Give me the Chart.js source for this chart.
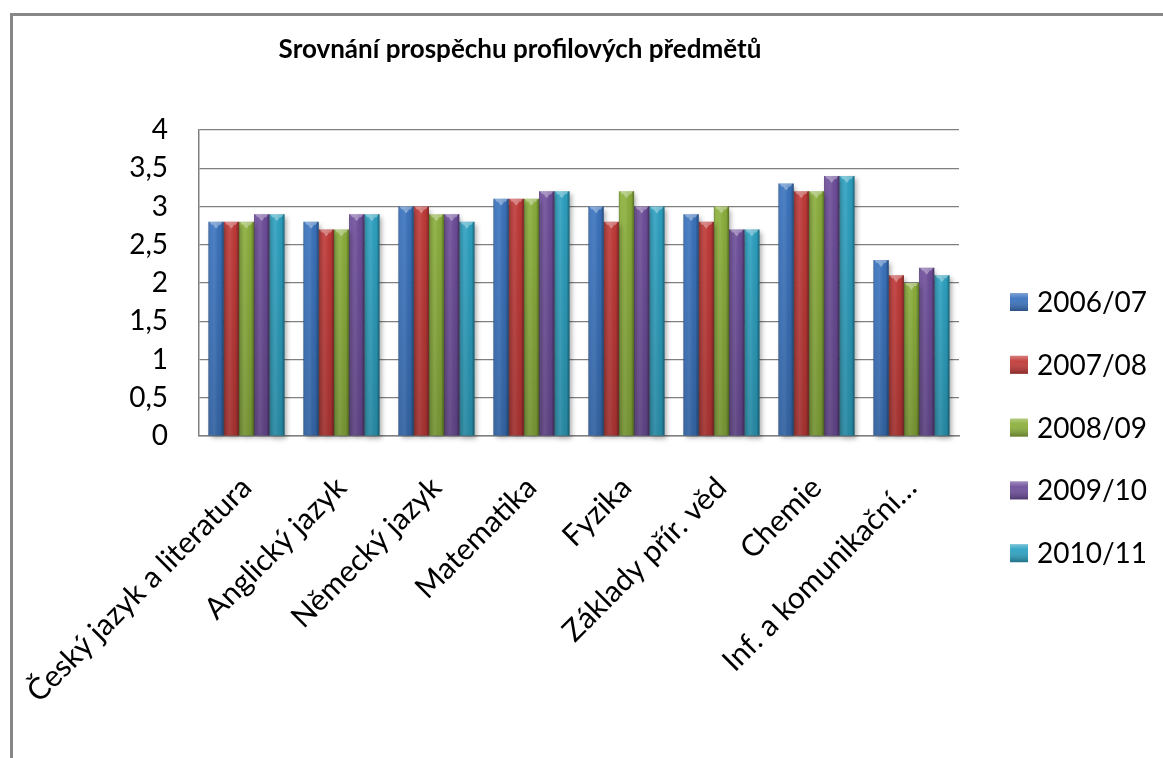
<!DOCTYPE html>
<html>
<head>
<meta charset="utf-8">
<script src="https://cdn.jsdelivr.net/npm/chart.js@4.4.1/dist/chart.umd.min.js"></script>
<style>
    html, body { margin: 0; padding: 0; background: #fff; overflow: hidden; }
    #wrap { position: absolute; left: 0; top: 0; width: 1163px; height: 758px; }
    #frame { position: absolute; left: 10px; top: 13px; width: 1200px; height: 800px;
             border-top: 3px solid #878787; border-left: 3px solid #878787; }
</style>
</head>
<body>
<div id="frame"></div>
<div id="wrap"><canvas id="myChart" width="1163" height="758"></canvas></div>
<script>
const chartTitle = 'Srovnání prospěchu profilových předmětů';
const subjects = ['Český jazyk a literatura', 'Anglický jazyk', 'Německý jazyk', 'Matematika',
    'Fyzika', 'Základy přír. věd', 'Chemie', 'Inf. a komunikační…'];
const years = ['2006/07', '2007/08', '2008/09', '2009/10', '2010/11'];
const v2006 = [2.8, 2.8, 3.0, 3.1, 3.0, 2.9, 3.3, 2.3];
const v2007 = [2.8, 2.7, 3.0, 3.1, 2.8, 2.8, 3.2, 2.1];
const v2008 = [2.8, 2.7, 2.9, 3.1, 3.2, 3.0, 3.2, 2.0];
const v2009 = [2.9, 2.9, 2.9, 3.2, 3.0, 2.7, 3.4, 2.2];
const v2010 = [2.9, 2.9, 2.8, 3.2, 3.0, 2.7, 3.4, 2.1];
const yTicks = [0, 0.5, 1, 1.5, 2, 2.5, 3, 3.5, 4];
const colors = ['#3A73BE', '#C23A38', '#8CB03C', '#6E4E9B', '#2DA2C2'];

const FONT = 'Lato, Carlito, Calibri, sans-serif';

// bevel look, shadow, title and legend
const excelLook = {
    id: 'excelLook',
    beforeDatasetsDraw(chart) {
        const ctx = chart.ctx;
        ctx.save();
        ctx.shadowColor = 'rgba(0,0,0,0.35)';
        ctx.shadowBlur = 5;
        ctx.shadowOffsetX = 2;
        ctx.shadowOffsetY = 3;
    },
    afterDatasetsDraw(chart) {
        const ctx = chart.ctx;
        ctx.restore();
        chart.data.datasets.forEach((ds, di) => {
            chart.getDatasetMeta(di).data.forEach((bar) => {
                const left = bar.x - bar.width / 2;
                const w = bar.width;
                const top = bar.y;
                const h = bar.base - bar.y;
                const g = ctx.createLinearGradient(left, 0, left + w, 0);
                g.addColorStop(0, 'rgba(0,0,0,0.30)');
                g.addColorStop(0.12, 'rgba(255,255,255,0.06)');
                g.addColorStop(0.4, 'rgba(255,255,255,0.10)');
                g.addColorStop(0.8, 'rgba(0,0,0,0.04)');
                g.addColorStop(1, 'rgba(0,0,0,0.38)');
                ctx.fillStyle = g;
                ctx.fillRect(left, top, w, h);
                // darker toward the base
                const gv = ctx.createLinearGradient(0, top, 0, top + h);
                gv.addColorStop(0, 'rgba(0,0,0,0)');
                gv.addColorStop(1, 'rgba(0,0,0,0.15)');
                ctx.fillStyle = gv;
                ctx.fillRect(left, top, w, h);
                // top cap
                ctx.fillStyle = 'rgba(255,255,255,0.35)';
                ctx.beginPath();
                ctx.moveTo(left + 1, top);
                ctx.lineTo(left + w - 1, top);
                ctx.lineTo(left + w - 3, top + 3);
                ctx.lineTo(left + 3, top + 3);
                ctx.closePath();
                ctx.fill();
                ctx.beginPath();
                ctx.moveTo(bar.x - 3, top + 3);
                ctx.lineTo(bar.x + 3, top + 3);
                ctx.lineTo(bar.x, top + 7);
                ctx.closePath();
                ctx.fill();
            });
        });
    },
    afterDraw(chart) {
        const ctx = chart.ctx;
        ctx.save();
        ctx.fillStyle = '#000';
        ctx.font = 'bold 26px ' + FONT;
        ctx.textAlign = 'center';
        ctx.textBaseline = 'alphabetic';
        ctx.fillText(chartTitle, 520, 58);

        ctx.font = '28px ' + FONT;
        ctx.textAlign = 'left';
        ctx.textBaseline = 'middle';
        chart.data.datasets.forEach((ds, i) => {
            const cy = 302 + i * 62.8;
            const bx = 1010, s = 18;
            ctx.fillStyle = ds.backgroundColor;
            ctx.fillRect(bx, cy - s / 2, s, s);
            const g = ctx.createLinearGradient(0, cy - s / 2, 0, cy + s / 2);
            g.addColorStop(0, 'rgba(255,255,255,0.35)');
            g.addColorStop(0.3, 'rgba(255,255,255,0.05)');
            g.addColorStop(1, 'rgba(0,0,0,0.3)');
            ctx.fillStyle = g;
            ctx.fillRect(bx, cy - s / 2, s, s);
            ctx.fillStyle = '#000';
            ctx.fillText(ds.label, 1037, cy + 1);
        });
        ctx.restore();
    },
};

const ctx = document.getElementById('myChart').getContext('2d');
const seriesValues = [v2006, v2007, v2008, v2009, v2010];
const myChart = new Chart(ctx, {
    type: 'bar',
    data: {
        labels: subjects,
        datasets: years.map((y, i) => ({
            label: y,
            data: seriesValues[i],
            backgroundColor: colors[i],
            borderWidth: 0,
            categoryPercentage: 0.8,
            barPercentage: 1.0,
            clip: false,
        })),
    },
    options: {
        responsive: false,
        animation: false,
        devicePixelRatio: 1,
        layout: { padding: { left: 0, right: 204, top: 130, bottom: 0 } },
        plugins: {
            legend: { display: false },
            title: { display: false },
            tooltip: { enabled: false },
        },
        scales: {
            x: {
                grid: { display: false, drawTicks: false },
                border: { display: true, color: '#808080', width: 1.5 },
                ticks: {
                    color: '#000',
                    font: { family: FONT, size: 30 },
                    minRotation: 45,
                    maxRotation: 45,
                    autoSkip: false,
                    padding: 34,
                },
                afterFit(scale) {
                    scale.height = 322;
                    // rotated labels may hang past the y axis, keep plot area fixed
                    scale.paddingLeft = 0;
                    scale.paddingRight = 0;
                },
            },
            y: {
                min: 0,
                max: 4,
                afterBuildTicks(scale) { scale.ticks = yTicks.map(v => ({ value: v })); },
                grid: { color: '#808080', lineWidth: 1.2, drawTicks: false },
                border: { display: true, color: '#808080', width: 1.5 },
                ticks: {
                    color: '#000',
                    font: { family: FONT, size: 28 },
                    padding: 31,
                    callback: (value) => String(value).replace('.', ','),
                },
                afterFit(scale) { scale.width = 199; },
            },
        },
    },
    plugins: [excelLook],
});
</script>
</body>
</html>
